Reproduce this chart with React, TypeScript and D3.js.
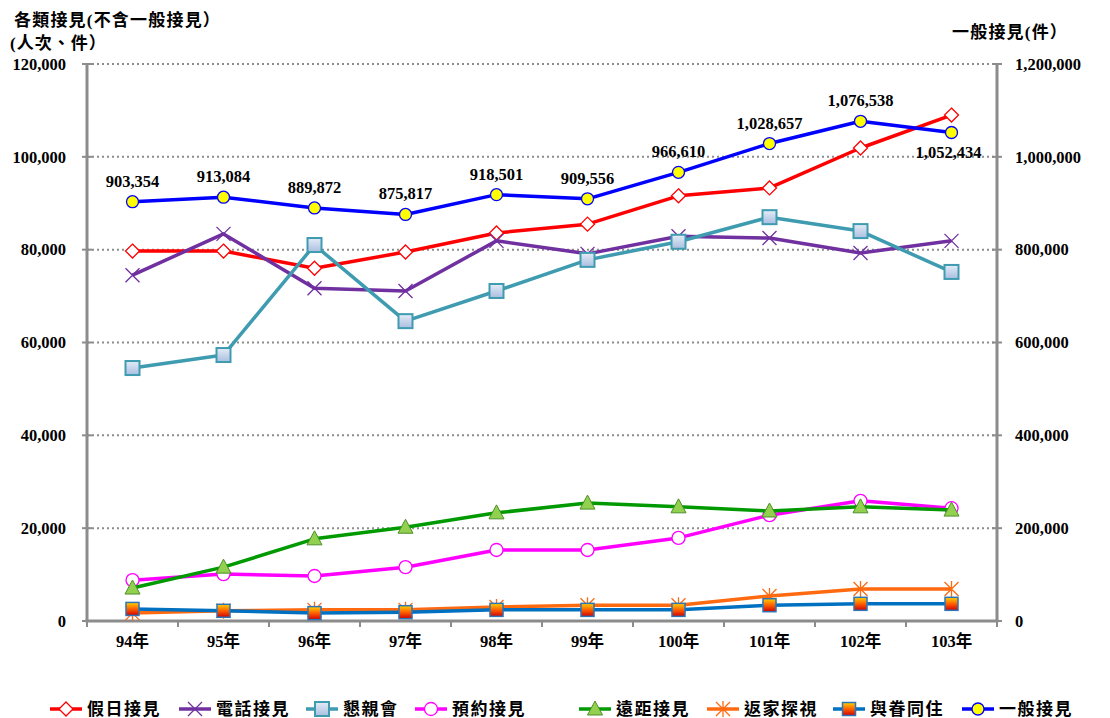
import React from 'react';
import * as d3 from 'd3';

// categories (years)
const years = ['94年', '95年', '96年', '97年', '98年', '99年', '100年', '101年', '102年', '103年'];

// left axis series (人次、件)
const holidayVisit = [79700, 79700, 76000, 79500, 83600, 85500, 91600, 93300, 101900, 109000];
const phoneVisit = [74500, 83400, 71700, 71100, 81900, 79100, 82900, 82500, 79300, 81900];
const familyGathering = [54500, 57300, 81000, 64600, 71100, 77800, 81700, 87000, 84000, 75200];
const appointmentVisit = [8800, 10100, 9700, 11600, 15300, 15300, 17900, 22800, 25900, 24300];
const remoteVisit = [7100, 11600, 17700, 20200, 23300, 25400, 24600, 23700, 24600, 23900];
const homeLeave = [1700, 2200, 2400, 2400, 3000, 3400, 3400, 5400, 6900, 6900];
const liveWithFamily = [2600, 2200, 1700, 1900, 2400, 2400, 2400, 3400, 3700, 3700];

// right axis series (件)
const generalVisit = [903354, 913084, 889872, 875817, 918501, 909556, 966610, 1028657, 1076538, 1052434];

const leftTicks = [0, 20000, 40000, 60000, 80000, 100000, 120000];
const rightTicks = [0, 200000, 400000, 600000, 800000, 1000000, 1200000];

const W = 1110;
const H = 718;
const margin = { top: 64, right: 113, bottom: 97, left: 87 };
const FONT = '"Liberation Serif", "Times New Roman", "Noto Sans CJK TC", serif';
const legendX = [50, 179, 306, 415, 579, 707, 833, 962];

type Marker = 'diamond' | 'x' | 'square' | 'circle' | 'triangle' | 'star' | 'gsquare' | 'ycircle';

interface Series {
  name: string;
  values: number[];
  color: string;
  marker: Marker;
  axis: 'left' | 'right';
}

const series: Series[] = [
  { name: '假日接見', values: holidayVisit, color: '#FF0000', marker: 'diamond', axis: 'left' },
  { name: '電話接見', values: phoneVisit, color: '#7030A0', marker: 'x', axis: 'left' },
  { name: '懇親會', values: familyGathering, color: '#3E9BB0', marker: 'square', axis: 'left' },
  { name: '預約接見', values: appointmentVisit, color: '#FF00FF', marker: 'circle', axis: 'left' },
  { name: '遠距接見', values: remoteVisit, color: '#009A00', marker: 'triangle', axis: 'left' },
  { name: '返家探視', values: homeLeave, color: '#FF6A10', marker: 'star', axis: 'left' },
  { name: '與眷同住', values: liveWithFamily, color: '#0070C0', marker: 'gsquare', axis: 'left' },
  { name: '一般接見', values: generalVisit, color: '#0000FF', marker: 'ycircle', axis: 'right' },
];

const MarkerShape = ({ type, color }: { type: Marker; color: string }) => {
  switch (type) {
    case 'diamond':
      return <path d="M0,-7L7,0L0,7L-7,0Z" fill="#fff" stroke={color} strokeWidth={1.3} />;
    case 'x':
      return <path d="M-7,-7L7,7M-7,7L7,-7" stroke={color} strokeWidth={1.3} />;
    case 'square':
      return <rect x={-7} y={-7} width={14} height={14} fill="url(#gradSq)" stroke={color} strokeWidth={2} />;
    case 'circle':
      return <circle r={6.5} fill="#fff" stroke={color} strokeWidth={1.3} />;
    case 'triangle':
      return <path d="M0,-8L7.5,6L-7.5,6Z" fill="#92D050" stroke="#4E8F28" strokeWidth={1} />;
    case 'star':
      return <path d="M-7,-7L7,7M-7,7L7,-7M0,-8V8" stroke={color} strokeWidth={1.3} />;
    case 'gsquare':
      return <rect x={-6.5} y={-6.5} width={13} height={13} fill="url(#gradFire)" stroke="#2E75B6" strokeWidth={1.5} />;
    case 'ycircle':
      return <circle r={6} fill="#FFFF00" stroke="#0000FF" strokeWidth={1.3} />;
  }
};

const App = () => {
  const innerW = W - margin.left - margin.right;
  const innerH = H - margin.top - margin.bottom;

  const x = d3.scalePoint<string>().domain(years).range([0, innerW]).padding(0.5);
  const band = innerW / years.length;
  const yL = d3.scaleLinear().domain([0, 120000]).range([innerH, 0]);
  const yR = d3.scaleLinear().domain([0, 1200000]).range([innerH, 0]);
  const fmt = d3.format(',');

  const lineFor = (s: Series) => {
    const ys = s.axis === 'left' ? yL : yR;
    return d3
      .line<number>()
      .x((_, i) => x(years[i]) as number)
      .y((d) => ys(d))(s.values) as string;
  };

  return (
    <svg
      width={W}
      height={H}
      style={{ position: 'absolute', left: 0, top: 0, background: '#fff' }}
      fontFamily={FONT}
      fontWeight="bold"
    >
      <defs>
        <linearGradient id="gradSq" x1="0" y1="0" x2="0" y2="1">
          <stop offset="0" stopColor="#E4ECF7" />
          <stop offset="1" stopColor="#A9BEE0" />
        </linearGradient>
        <linearGradient id="gradFire" x1="0" y1="0" x2="0" y2="1">
          <stop offset="0" stopColor="#FFD200" />
          <stop offset="0.5" stopColor="#FF6000" />
          <stop offset="1" stopColor="#D00000" />
        </linearGradient>
      </defs>
      <rect width={W} height={H} fill="#fff" />

      {/* axis titles */}
      <text x={14} y={26} fontSize={17} letterSpacing={1.2}>各類接見(不含一般接見）</text>
      <text x={10} y={49} fontSize={17} letterSpacing={1}>(人次、件）</text>
      <text x={952} y={38} fontSize={17} letterSpacing={1.2}>一般接見(件）</text>

      <g transform={`translate(${margin.left},${margin.top})`}>
        {/* grid */}
        {leftTicks.filter((t) => t > 0).map((t) => (
          <line key={t} x1={0} x2={innerW} y1={yL(t)} y2={yL(t)} stroke="#8C8C8C" strokeWidth={2} strokeDasharray="2,3" />
        ))}

        {/* left axis */}
        <line x1={0} x2={0} y1={0} y2={innerH} stroke="#8C8C8C" strokeWidth={3} />
        {leftTicks.map((t) => (
          <g key={t} transform={`translate(0,${yL(t)})`}>
            <line x1={-5} x2={5} stroke="#8C8C8C" strokeWidth={2} />
            <text x={-21} dy="0.35em" textAnchor="end" fontSize={16.5}>{fmt(t)}</text>
          </g>
        ))}

        {/* right axis */}
        <line x1={innerW} x2={innerW} y1={0} y2={innerH} stroke="#8C8C8C" strokeWidth={3} />
        {rightTicks.map((t) => (
          <g key={t} transform={`translate(${innerW},${yR(t)})`}>
            <line x1={-5} x2={5} stroke="#8C8C8C" strokeWidth={2} />
            <text x={18} dy="0.35em" textAnchor="start" fontSize={16.5}>{fmt(t)}</text>
          </g>
        ))}

        {/* bottom axis */}
        <line x1={-1.5} x2={innerW + 1.5} y1={innerH} y2={innerH} stroke="#8C8C8C" strokeWidth={3} />
        {d3.range(years.length + 1).map((i) => (
          <line key={i} x1={i * band} x2={i * band} y1={innerH} y2={innerH + 6} stroke="#8C8C8C" strokeWidth={2} />
        ))}
        {years.map((yr) => (
          <text key={yr} x={x(yr)} y={innerH + 26} textAnchor="middle" fontSize={16.5}>{yr}</text>
        ))}

        {/* series */}
        {series.map((s) => {
          const ys = s.axis === 'left' ? yL : yR;
          return (
            <g key={s.name}>
              <path d={lineFor(s)} fill="none" stroke={s.color} strokeWidth={3.5} strokeLinejoin="round" />
              {s.values.map((v, i) => (
                <g key={i} transform={`translate(${x(years[i])},${ys(v)})`}>
                  <MarkerShape type={s.marker} color={s.color} />
                </g>
              ))}
            </g>
          );
        })}

        {/* data labels for 一般接見 */}
        {generalVisit.map((v, i) => {
          const last = i === generalVisit.length - 1;
          return (
            <text
              key={i}
              x={(x(years[i]) as number) + (last ? -3 : 0)}
              y={yR(v) + (last ? 26 : -15)}
              textAnchor="middle"
              fontSize={16.5}
            >
              {fmt(v)}
            </text>
          );
        })}
      </g>

      {/* legend */}
      <g transform="translate(0,709)">
        {series.map((s, i) => (
          <g key={s.name} transform={`translate(${legendX[i]},0)`}>
            <line x1={0} x2={32} y1={0} y2={0} stroke={s.color} strokeWidth={3.5} />
            <g transform="translate(16,0)">
              <MarkerShape type={s.marker} color={s.color} />
            </g>
            <text x={37} dy="0.35em" fontSize={17} letterSpacing={1.5}>{s.name}</text>
          </g>
        ))}
      </g>
    </svg>
  );
};

export default App;
